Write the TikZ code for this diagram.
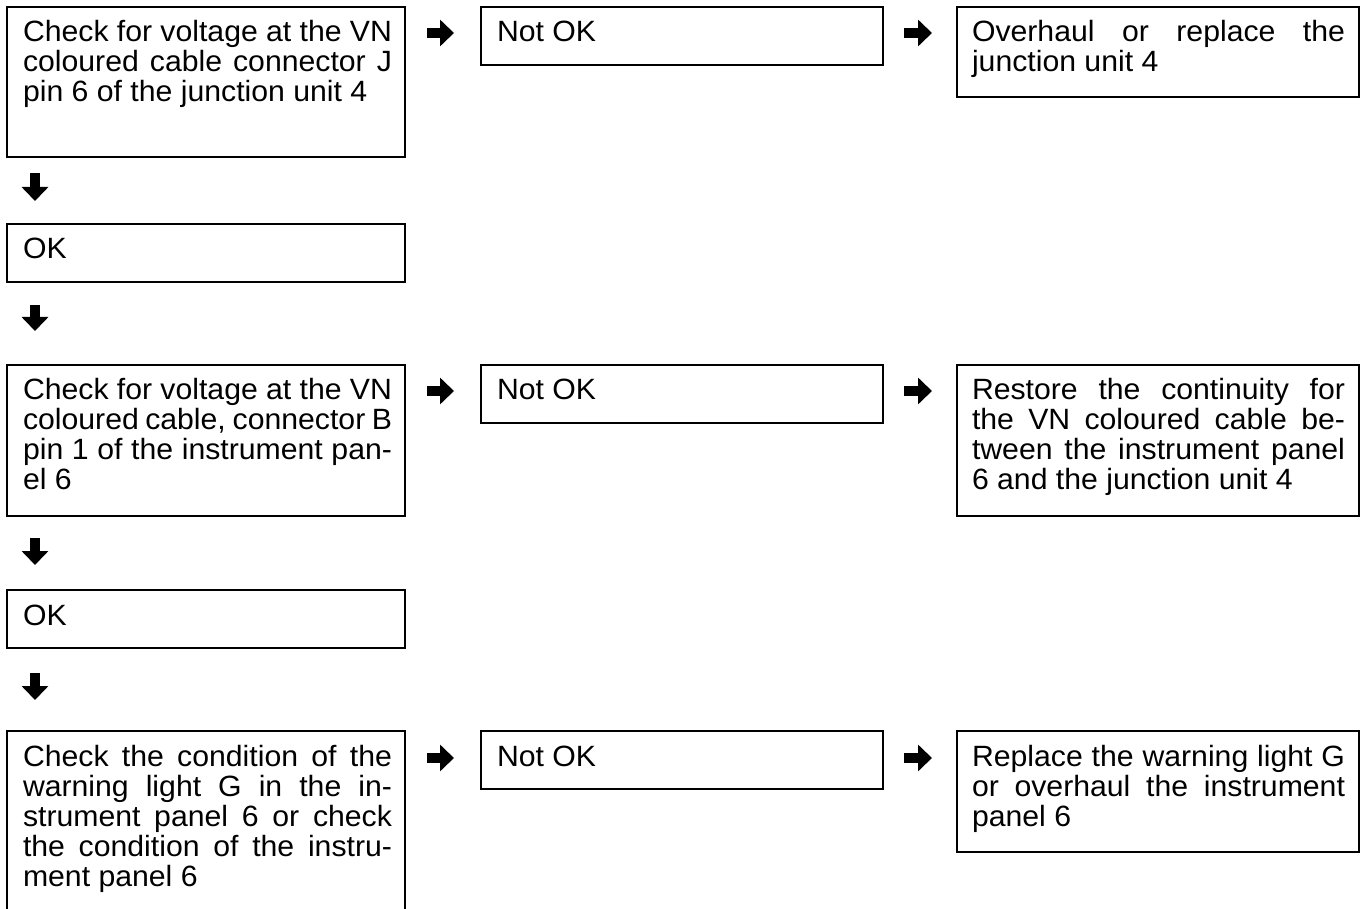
\documentclass[tikz,border=0pt]{standalone}
\usepackage{fontspec}
\setmainfont{Liberation Sans}[FakeStretch=1.03]
\usetikzlibrary{calc,arrows.meta}
\newdimen\linew
\newcommand\jl[1]{\hbox to \linew{#1}}
\newcommand\fjl[1]{\hbox to \linew{\rule{0pt}{18pt}#1}}
\newcommand\nl[1]{\hbox{#1}}
\newcommand\fnl[1]{\hbox{\rule{0pt}{18pt}#1}}
\newcommand\lines[1]{\vtop{\baselineskip=22.5pt\lineskiplimit=-50pt\lineskip=0pt #1}}
\begin{document}
\begin{tikzpicture}[x=0.75pt,y=-0.75pt,
  box/.style={draw, line width=1pt, inner sep=0pt, outer sep=0pt, anchor=north west, minimum width=301.5pt},
  boxA/.style={box, minimum width=298.5pt},
  txt/.style={inner sep=0pt, outer sep=0pt, anchor=north west, font=\fontsize{22}{22.5}\selectfont},
  txtA/.style={txt, execute at begin node={\linew=276.75pt}},
  txtC/.style={txt, execute at begin node={\linew=279.75pt}},
  flow/.style={line width=7.5pt, -{Triangle[length=10.5pt,width=19.5pt]}}
]
\useasboundingbox (0,0) rectangle (1361,909);
\clip (0,0) rectangle (1361,909);

% boxes
\node[boxA, minimum height=112.5pt] (A1) at (7,7) {};
\node[box, minimum height=43.5pt] (N1) at (481,7) {};
\node[box, minimum height=67.5pt] (R1) at (957,7) {};
\node[boxA, minimum height=43.5pt] (K1) at (7,224) {};
\node[boxA, minimum height=113.25pt] (A2) at (7,365) {};
\node[box, minimum height=43.5pt] (N2) at (481,365) {};
\node[box, minimum height=113.25pt] (R2) at (957,365) {};
\node[boxA, minimum height=43.5pt] (K2) at (7,590) {};
\node[boxA, minimum height=150pt] (A3) at (7,731) {};
\node[box, minimum height=43.5pt] (N3) at (481,731) {};
\node[box, minimum height=90.75pt] (R3) at (957,731) {};

% texts
\node[txtA] (tA1) at ($(A1.north west)+(16,11)$) {\lines{%
  \fjl{Check for voltage at the VN}\jl{coloured cable connector J}\nl{pin 6 of the junction unit 4}}};
\node[txtA] (tN1) at ($(N1.north west)+(16,11)$) {\lines{\fnl{Not OK}}};
\node[txtC] (tR1) at ($(R1.north west)+(15,11)$) {\lines{%
  \fjl{Overhaul or replace the}\nl{junction unit 4}}};
\node[txtA] (tK1) at ($(K1.north west)+(16,11)$) {\lines{\fnl{OK}}};
\node[txtA] (tA2) at ($(A2.north west)+(16,11)$) {\lines{%
  \fjl{Check for voltage at the VN}\jl{coloured cable, connector B}\jl{pin 1 of the instrument pan-}\nl{el 6}}};
\node[txtA] (tN2) at ($(N2.north west)+(16,11)$) {\lines{\fnl{Not OK}}};
\node[txtC] (tR2) at ($(R2.north west)+(15,11)$) {\lines{%
  \fjl{Restore the continuity for}\jl{the VN coloured cable be-}\jl{tween the instrument panel}\nl{6 and the junction unit 4}}};
\node[txtA] (tK2) at ($(K2.north west)+(16,11)$) {\lines{\fnl{OK}}};
\node[txtA] (tA3) at ($(A3.north west)+(16,11)$) {\lines{%
  \fjl{Check the condition of the}\jl{warning light G in the in-}\jl{strument panel 6 or check}\jl{the condition of the instru-}\nl{ment panel 6}}};
\node[txtA] (tN3) at ($(N3.north west)+(16,11)$) {\lines{\fnl{Not OK}}};
\node[txtC] (tR3) at ($(R3.north west)+(15,11)$) {\lines{%
  \fjl{Replace the warning light G}\jl{or overhaul the instrument}\nl{panel 6}}};

% right arrows
\draw[flow] ($(A1.north east)+(22,26)$) -- ($(N1.north west)+(-27,26)$);
\draw[flow] ($(N1.north east)+(21,26)$) -- ($(R1.north west)+(-25,26)$);
\draw[flow] ($(A2.north east)+(22,26)$) -- ($(N2.north west)+(-27,26)$);
\draw[flow] ($(N2.north east)+(21,26)$) -- ($(R2.north west)+(-25,26)$);
\draw[flow] ($(A3.north east)+(22,27)$) -- ($(N3.north west)+(-27,27)$);
\draw[flow] ($(N3.north east)+(21,27)$) -- ($(R3.north west)+(-25,27)$);

% down arrows
\draw[flow] ($(A1.south west)+(28,16)$) -- ($(K1.north west)+(28,-23)$);
\draw[flow] ($(K1.south west)+(28,23)$) -- ($(A2.north west)+(28,-34)$);
\draw[flow] ($(A2.south west)+(28,22)$) -- ($(K2.north west)+(28,-25)$);
\draw[flow] ($(K2.south west)+(28,25)$) -- ($(A3.north west)+(28,-31)$);
\end{tikzpicture}
\end{document}
